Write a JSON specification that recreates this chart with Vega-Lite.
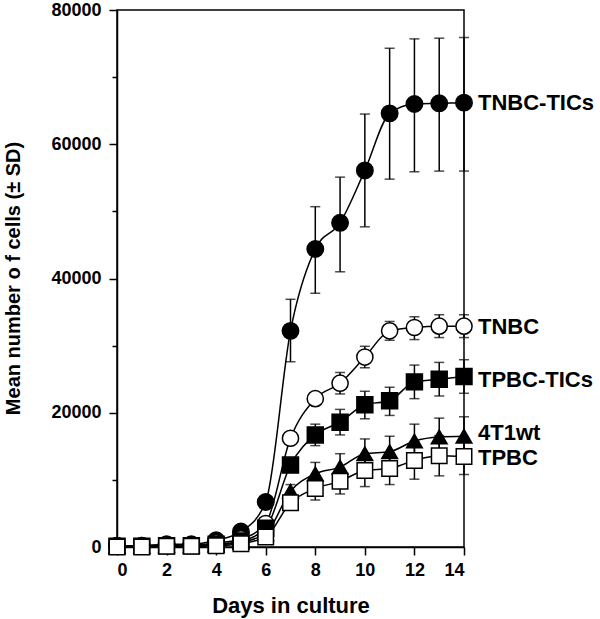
{
  "$schema": "https://vega.github.io/schema/vega-lite/v6.json",
  "width": 347,
  "height": 537,
  "autosize": "none",
  "padding": {"left": 117, "top": 10, "right": 136, "bottom": 72},
  "config": {
    "font": "Liberation Sans",
    "view": {"stroke": "black", "strokeWidth": 1.5},
    "axis": {
      "grid": false,
      "domainColor": "black",
      "domainWidth": 1.5,
      "tickColor": "black",
      "tickWidth": 1.5,
      "labelColor": "black",
      "titleColor": "black",
      "labelFont": "Liberation Sans",
      "titleFont": "Liberation Sans",
      "labelFontSize": 18,
      "labelFontWeight": "bold",
      "titleFontSize": 22,
      "titleFontWeight": "bold"
    }
  },
  "datasets": {
    "series": [
      {"series": "TNBC-TICs", "day": 0, "mean": 200},
      {"series": "TNBC-TICs", "day": 1, "mean": 200},
      {"series": "TNBC-TICs", "day": 2, "mean": 400},
      {"series": "TNBC-TICs", "day": 3, "mean": 400},
      {"series": "TNBC-TICs", "day": 4, "mean": 1000},
      {"series": "TNBC-TICs", "day": 5, "mean": 2300},
      {"series": "TNBC-TICs", "day": 6, "mean": 6700},
      {"series": "TNBC-TICs", "day": 7, "mean": 32200, "lo": 27600, "hi": 36900},
      {"series": "TNBC-TICs", "day": 8, "mean": 44400, "lo": 37800, "hi": 50700},
      {"series": "TNBC-TICs", "day": 9, "mean": 48300, "lo": 41000, "hi": 55100},
      {"series": "TNBC-TICs", "day": 10, "mean": 56100, "lo": 47700, "hi": 64500},
      {"series": "TNBC-TICs", "day": 11, "mean": 64600, "lo": 54800, "hi": 74300},
      {"series": "TNBC-TICs", "day": 12, "mean": 66000, "lo": 55900, "hi": 75700},
      {"series": "TNBC-TICs", "day": 13, "mean": 66100, "lo": 56000, "hi": 75800},
      {"series": "TNBC-TICs", "day": 14, "mean": 66200, "lo": 56000, "hi": 75900},
      {"series": "TNBC", "day": 0, "mean": 200},
      {"series": "TNBC", "day": 1, "mean": 200},
      {"series": "TNBC", "day": 2, "mean": 300},
      {"series": "TNBC", "day": 3, "mean": 300},
      {"series": "TNBC", "day": 4, "mean": 600},
      {"series": "TNBC", "day": 5, "mean": 1200},
      {"series": "TNBC", "day": 6, "mean": 3500},
      {"series": "TNBC", "day": 7, "mean": 16200, "lo": 15500, "hi": 16900},
      {"series": "TNBC", "day": 8, "mean": 22100, "lo": 21300, "hi": 22900},
      {"series": "TNBC", "day": 9, "mean": 24400, "lo": 22800, "hi": 26000},
      {"series": "TNBC", "day": 10, "mean": 28300, "lo": 26700, "hi": 29900},
      {"series": "TNBC", "day": 11, "mean": 32200, "lo": 30800, "hi": 33600},
      {"series": "TNBC", "day": 12, "mean": 32700, "lo": 30900, "hi": 34300},
      {"series": "TNBC", "day": 13, "mean": 32900, "lo": 31200, "hi": 34600},
      {"series": "TNBC", "day": 14, "mean": 32900, "lo": 31200, "hi": 34600},
      {"series": "TPBC-TICs", "day": 0, "mean": 100},
      {"series": "TPBC-TICs", "day": 1, "mean": 100},
      {"series": "TPBC-TICs", "day": 2, "mean": 200},
      {"series": "TPBC-TICs", "day": 3, "mean": 200},
      {"series": "TPBC-TICs", "day": 4, "mean": 400},
      {"series": "TPBC-TICs", "day": 5, "mean": 900},
      {"series": "TPBC-TICs", "day": 6, "mean": 2800},
      {"series": "TPBC-TICs", "day": 7, "mean": 12200, "lo": 11300, "hi": 13100},
      {"series": "TPBC-TICs", "day": 8, "mean": 16700, "lo": 15100, "hi": 18300},
      {"series": "TPBC-TICs", "day": 9, "mean": 18600, "lo": 16700, "hi": 20500},
      {"series": "TPBC-TICs", "day": 10, "mean": 21200, "lo": 19100, "hi": 23200},
      {"series": "TPBC-TICs", "day": 11, "mean": 21800, "lo": 19600, "hi": 23800},
      {"series": "TPBC-TICs", "day": 12, "mean": 24600, "lo": 22100, "hi": 27100},
      {"series": "TPBC-TICs", "day": 13, "mean": 25000, "lo": 22500, "hi": 27500},
      {"series": "TPBC-TICs", "day": 14, "mean": 25400, "lo": 22900, "hi": 27900},
      {"series": "4T1wt", "day": 0, "mean": 100},
      {"series": "4T1wt", "day": 1, "mean": 100},
      {"series": "4T1wt", "day": 2, "mean": 200},
      {"series": "4T1wt", "day": 3, "mean": 200},
      {"series": "4T1wt", "day": 4, "mean": 300},
      {"series": "4T1wt", "day": 5, "mean": 700},
      {"series": "4T1wt", "day": 6, "mean": 2000},
      {"series": "4T1wt", "day": 7, "mean": 8300, "lo": 7300, "hi": 9300},
      {"series": "4T1wt", "day": 8, "mean": 10900, "lo": 9200, "hi": 12600},
      {"series": "4T1wt", "day": 9, "mean": 11900, "lo": 9900, "hi": 13900},
      {"series": "4T1wt", "day": 10, "mean": 13900, "lo": 11700, "hi": 16100},
      {"series": "4T1wt", "day": 11, "mean": 14200, "lo": 12000, "hi": 16500},
      {"series": "4T1wt", "day": 12, "mean": 15800, "lo": 13300, "hi": 18300},
      {"series": "4T1wt", "day": 13, "mean": 16400, "lo": 13500, "hi": 19200},
      {"series": "4T1wt", "day": 14, "mean": 16500, "lo": 13600, "hi": 19400},
      {"series": "TPBC", "day": 0, "mean": 0},
      {"series": "TPBC", "day": 1, "mean": 0},
      {"series": "TPBC", "day": 2, "mean": 100},
      {"series": "TPBC", "day": 3, "mean": 100},
      {"series": "TPBC", "day": 4, "mean": 200},
      {"series": "TPBC", "day": 5, "mean": 500},
      {"series": "TPBC", "day": 6, "mean": 1500},
      {"series": "TPBC", "day": 7, "mean": 6600, "lo": 5600, "hi": 7600},
      {"series": "TPBC", "day": 8, "mean": 8700, "lo": 7000, "hi": 10400},
      {"series": "TPBC", "day": 9, "mean": 9800, "lo": 7900, "hi": 11700},
      {"series": "TPBC", "day": 10, "mean": 11400, "lo": 9000, "hi": 13800},
      {"series": "TPBC", "day": 11, "mean": 11700, "lo": 9300, "hi": 14000},
      {"series": "TPBC", "day": 12, "mean": 12900, "lo": 10100, "hi": 15700},
      {"series": "TPBC", "day": 13, "mean": 13600, "lo": 10600, "hi": 16600},
      {"series": "TPBC", "day": 14, "mean": 13500, "lo": 10800, "hi": 16200}
    ],
    "labels": [
      {"label": "TNBC-TICs", "day": 14, "pos": 66200},
      {"label": "TNBC", "day": 14, "pos": 32800},
      {"label": "TPBC-TICs", "day": 14, "pos": 24900},
      {"label": "4T1wt", "day": 14, "pos": 17000},
      {"label": "TPBC", "day": 14, "pos": 13200}
    ]
  },
  "layer": [
    {
      "data": {"name": "series"},
      "transform": [{"filter": "isValid(datum.lo)"}],
      "mark": {"type": "errorbar", "color": "black", "rule": {"strokeWidth": 1.5}, "ticks": {"size": 10, "thickness": 1.5, "color": "black"}},
      "encoding": {
        "x": {"field": "day", "type": "quantitative", "scale": {"domain": [0, 14], "nice": false},
          "axis": {"values": [0, 2, 4, 6, 8, 10, 12, 14], "tickSize": 8, "labelPadding": 6, "title": "Days in culture", "titlePadding": 16}},
        "y": {"field": "lo", "type": "quantitative", "scale": {"domain": [0, 80000], "nice": false},
          "axis": {"orient": "left", "values": [10000, 30000, 50000, 70000], "tickSize": 5, "labels": false, "domain": false, "title": null}},
        "y2": {"field": "hi"},
        "detail": {"field": "series"}
      }
    },
    {
      "layer": [
        {
          "data": {"name": "series"},
          "mark": {"type": "line", "interpolate": "monotone", "color": "black", "strokeWidth": 1.5},
          "encoding": {
            "x": {"field": "day", "type": "quantitative", "axis": null},
            "y": {"field": "mean", "type": "quantitative",
              "axis": {"orient": "left", "values": [0, 20000, 40000, 60000, 80000], "format": "d", "tickSize": 8, "labelPadding": 8, "title": "Mean number o f cells (± SD)", "titleFontSize": 20, "titleX": -98, "titleY": 268, "titleBaseline": "alphabetic", "titleAngle": 270, "titleAlign": "center"}},
            "detail": {"field": "series"}
          }
        },
        {
          "data": {"name": "series"},
          "mark": {"type": "point", "filled": true, "opacity": 1, "stroke": "black", "strokeWidth": 1.5},
          "encoding": {
            "x": {"field": "day", "type": "quantitative", "axis": null},
            "y": {"field": "mean", "type": "quantitative"},
            "shape": {"field": "series", "type": "nominal", "legend": null,
              "scale": {"domain": ["TNBC-TICs", "TNBC", "TPBC-TICs", "4T1wt", "TPBC"], "range": ["circle", "circle", "square", "triangle-up", "square"]}},
            "fill": {"field": "series", "type": "nominal", "legend": null,
              "scale": {"domain": ["TNBC-TICs", "TNBC", "TPBC-TICs", "4T1wt", "TPBC"], "range": ["black", "white", "black", "black", "white"]}},
            "size": {"field": "series", "type": "nominal", "legend": null,
              "scale": {"domain": ["TNBC-TICs", "TNBC", "TPBC-TICs", "4T1wt", "TPBC"], "range": [270, 240, 250, 320, 240]}}
          }
        },
        {
          "data": {"name": "labels"},
          "mark": {"type": "text", "align": "left", "baseline": "middle", "dx": 14, "fontSize": 22, "fontWeight": "bold", "color": "black", "font": "Liberation Sans"},
          "encoding": {
            "x": {"field": "day", "type": "quantitative", "axis": null},
            "y": {"field": "pos", "type": "quantitative"},
            "text": {"field": "label"}
          }
        }
      ]
    }
  ],
  "resolve": {"axis": {"y": "independent", "x": "independent"}}
}
